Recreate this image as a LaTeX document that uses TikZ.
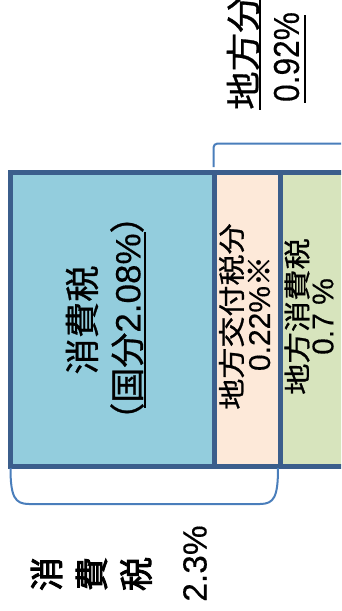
\documentclass[tikz,border=0pt]{standalone}
\usepackage{fontspec}
\usepackage{graphicx}
\setmainfont{Liberation Sans}[FakeBold=0.3]
\newfontfamily\jp{Noto Sans CJK JP}[FakeBold=0.8]
\newfontfamily\jpb{Noto Sans CJK JP}[FakeBold=2.6]
\definecolor{bord}{HTML}{3B5E8C}
\definecolor{bluef}{HTML}{93CDDD}
\definecolor{peachf}{HTML}{FDE9D9}
\definecolor{greenf}{HTML}{D7E4BD}
\definecolor{bracec}{HTML}{4A7EBB}
\tikzset{
  lbl/.style={inner sep=0pt,outer sep=0pt,rotate=90,anchor=center},
  fs/.style={font=\fontsize{#1pt}{#1pt}\selectfont},
  boxline/.style={draw=bord,line width=5pt},
  braceline/.style={draw=bracec,line width=2pt},
  uline/.style={draw=black,line width=1.6pt}
}
\begin{document}
\begin{tikzpicture}[x=1pt,y=-1pt]
\useasboundingbox (0,0) rectangle (341,611);
\clip (0,0) rectangle (341,611);
% boxes
\fill[bluef] (10,172) rectangle (214.5,466);
\fill[peachf] (214.5,172) rectangle (280,466);
\fill[greenf] (280,172) rectangle (350,466);
\path[boxline] (10,172) rectangle (350,466);
\path[boxline] (214.5,172) -- (214.5,466) (280,172) -- (280,466);
% braces
\path[braceline] (10.5,468) .. controls (10.5,497) and (15,504) .. (29,504) -- (260,504) .. controls (274,504) and (278,497) .. (278,468);
\path[braceline,rounded corners=4pt] (213.5,167) -- (213.5,143.5) -- (350,143.5);
% blue box texts
\node[lbl,fs=35] (b1) at (82,320) {\scalebox{1.04}[1]{\jp 消費税}};
\node[lbl,fs=35] (b2) at (127,318) {{\jp （国分}2.08\%{\jp ）}};
\path[uline] (145,232) -- (145,408);
% peach box texts
\node[lbl,fs=27] (p1) at (231.5,316.5) {\scalebox{1.15}[1]{\jp 地方交付税分}};
\node[lbl,fs=30] (p2) at (259,313.5) {0.22\%{\jp ※}};
% green box texts
\node[lbl,fs=27] (g1) at (297,316.5) {\scalebox{1.16}[1]{\jp 地方消費税}};
\node[lbl,fs=30] (g2) at (323,316.5) {0.7 \%};
% top right texts
\node[lbl,fs=35] (t1) at (243,52) {\scalebox{1.1}[1]{\jp 地方分}};
\path[uline] (260,0) -- (260,110);
\node[lbl,fs=36] (t2) at (286.5,57) {\scalebox{0.88}[1]{0.92\%}};
\path[uline] (305,15) -- (305,103);
% bottom label
\node[lbl,fs=34] (c1) at (46.5,574) {\jpb 消};
\node[lbl,fs=34] (c2) at (91.5,574) {\jpb 費};
\node[lbl,fs=34] (c3) at (136,574) {\jpb 税};
\node[lbl,fs=33.5] (c4) at (195,563.5) {2.3\%};
\end{tikzpicture}
\end{document}
